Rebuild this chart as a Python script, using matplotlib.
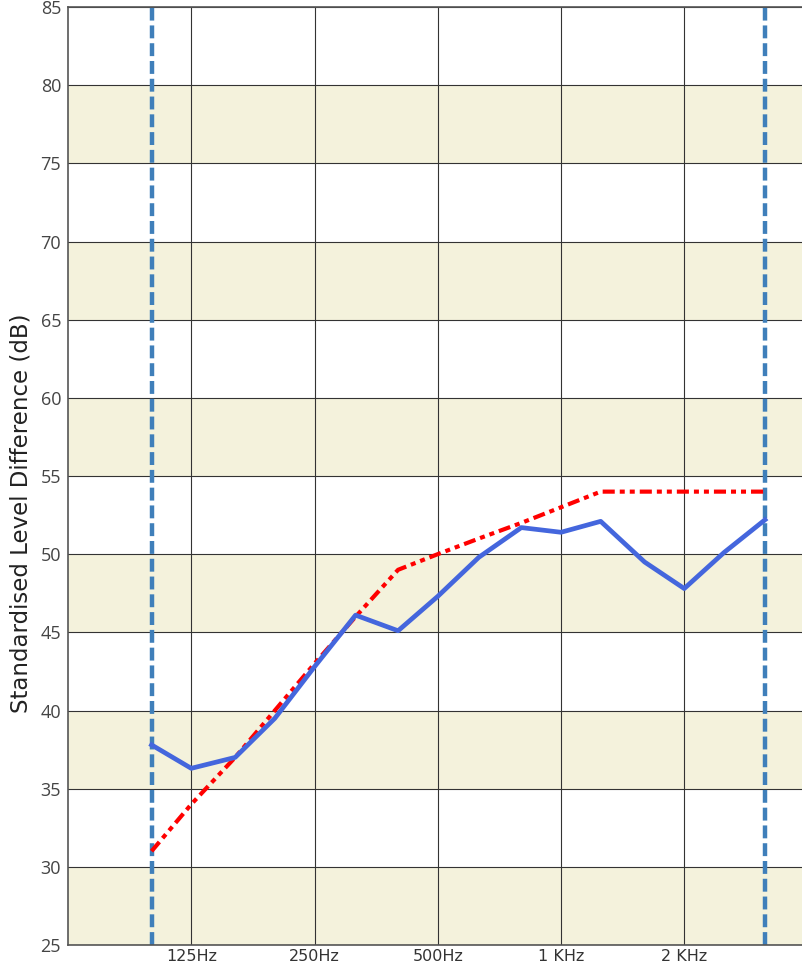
import matplotlib
matplotlib.use("Agg")
import matplotlib.pyplot as plt
from matplotlib.ticker import FixedLocator, NullLocator

# 1/3 octave bands, 100 Hz - 3150 Hz
freqs = [100, 125, 160, 200, 250, 315, 400, 500, 630, 800,
         1000, 1250, 1600, 2000, 2500, 3150]

# measured standardised level difference (dB)
measured = [37.8, 36.3, 37.0, 39.5, 42.8, 46.1, 45.1, 47.3, 49.8, 51.7,
            51.4, 52.1, 49.5, 47.8, 50.1, 52.2]

# shifted reference curve
reference = [31, 34, 37, 40, 43, 46, 49, 50, 51, 52,
             53, 54, 54, 54, 54, 54]

tick_freqs = [125, 250, 500, 1000, 2000, 4000]
tick_labels = ["125Hz", "250Hz", "500Hz", "1 KHz", "2 KHz", "4 KHz"]
yticks = list(range(25, 90, 5))

fig = plt.figure(figsize=(8.03, 9.67), dpi=100)
ax = fig.add_axes([68 / 803, 22 / 967, 1 - 68 / 803, 938 / 967])

ax.set_xscale("log")
ax.set_xlim(62.5, 3900)
ax.set_ylim(25, 85)

# alternating beige bands
for lo in range(25, 85, 10):
    ax.axhspan(lo, lo + 5, color="#F4F2DC", zorder=0, lw=0)

ax.xaxis.set_major_locator(FixedLocator(tick_freqs))
ax.xaxis.set_minor_locator(NullLocator())
ax.set_xticklabels(tick_labels, family="DejaVu Sans", fontsize=11.5, color="#333333")
ax.set_yticks(yticks)
ax.set_yticklabels([str(v) for v in yticks], family="Open Sans", fontsize=13, color="#444444")
ax.tick_params(axis="x", length=0, pad=3)
ax.tick_params(axis="y", length=0, pad=5)

ax.grid(True, which="major", color="#333333", lw=0.8, zorder=1)
for s in ax.spines.values():
    s.set_color("#555555")
    s.set_linewidth(1.2)
ax.spines["right"].set_visible(False)

# band limits
for f in (freqs[0], freqs[-1]):
    ax.axvline(f, color="#3F7FBA", lw=3.2, dashes=(2.9, 1.1), zorder=2)

ax.plot(freqs, reference, color="#FF0000", lw=3,
        dashes=(2.9, 1.2, 1.2, 1.2, 1.2, 1.2), zorder=3)
ax.plot(freqs, measured, color="#4466DD", lw=3.4, zorder=4)

ax.set_ylabel("Standardised Level Difference (dB)", family="DejaVu Sans",
              fontsize=16.5, color="#222222")
ax.yaxis.set_label_coords(-35 / 735, (945 - 513) / 938)

fig.savefig("out.png", dpi=100)
